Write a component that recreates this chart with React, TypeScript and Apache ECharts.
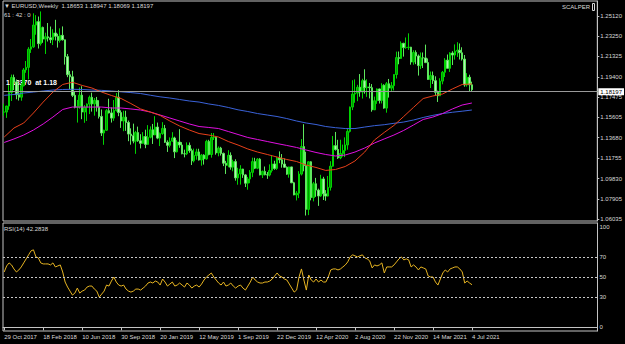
import React, { useEffect, useRef } from 'react';
import * as echarts from 'echarts';

// ---------- data ----------
const firstWeekUTC = Date.UTC(2017, 9, 29);
const axisSlots = 244; // weekly slots on the time axis (incl. empty right shift)
const xTickLabels = ['29 Oct 2017', '18 Feb 2018', '10 Jun 2018', '30 Sep 2018', '20 Jan 2019', '12 May 2019', '1 Sep 2019', '22 Dec 2019', '12 Apr 2020', '2 Aug 2020', '22 Nov 2020', '14 Mar 2021', '4 Jul 2021'];
const priceTicks = [1.06035, 1.07905, 1.0983, 1.11755, 1.1368, 1.15605, 1.17475, 1.194, 1.21325, 1.2325, 1.2512];
const rsiTicks = [0, 30, 50, 70, 100];
const rsiLevels = [70, 50, 30];
const bidPrice = 1.18197;
const levelPrice = 1.1846;

const candleOpen = [
  1.1608, 1.1609, 1.1665, 1.1793, 1.1934, 1.1892, 1.1772, 1.1749, 1.1857, 1.2005,
  1.2029, 1.2200, 1.2222, 1.2427, 1.2459, 1.2252, 1.2405, 1.2295, 1.2317, 1.2307,
  1.2289, 1.2352, 1.2321, 1.2282, 1.2330, 1.2288, 1.2130, 1.1960, 1.1940, 1.1766,
  1.1654, 1.1658, 1.1768, 1.1609, 1.1655, 1.1684, 1.1747, 1.1686, 1.1719, 1.1656,
  1.1568, 1.1412, 1.1438, 1.1622, 1.1601, 1.1552, 1.1624, 1.1748, 1.1604, 1.1525,
  1.1561, 1.1511, 1.1402, 1.1387, 1.1336, 1.1416, 1.1339, 1.1315, 1.1379, 1.1305,
  1.1372, 1.1442, 1.1394, 1.1468, 1.1364, 1.1407, 1.1455, 1.1325, 1.1296, 1.1336,
  1.1365, 1.1235, 1.1327, 1.1299, 1.1217, 1.1216, 1.1296, 1.1246, 1.1150, 1.1200,
  1.1234, 1.1158, 1.1204, 1.1169, 1.1333, 1.1210, 1.1370, 1.1371, 1.1225, 1.1270,
  1.1220, 1.1128, 1.1108, 1.1202, 1.1091, 1.1143, 1.0990, 1.1027, 1.1073, 1.1018,
  1.0940, 1.0980, 1.1042, 1.1143, 1.1081, 1.1166, 1.1018, 1.1051, 1.1020, 1.1017,
  1.1059, 1.1121, 1.1079, 1.1176, 1.1160, 1.1120, 1.1090, 1.1025, 1.1093, 1.0944,
  1.0830, 1.0846, 1.1026, 1.1284, 1.1105, 1.0694, 1.1141, 1.0805, 1.0935, 1.0875,
  1.0820, 1.0980, 1.0840, 1.0819, 1.0901, 1.1100, 1.1293, 1.1257, 1.1178, 1.1219,
  1.1248, 1.1300, 1.1427, 1.1656, 1.1778, 1.1787, 1.1842, 1.1798, 1.1903, 1.1838,
  1.1845, 1.1838, 1.1630, 1.1715, 1.1826, 1.1717, 1.1860, 1.1646, 1.1875, 1.1834,
  1.1857, 1.1962, 1.2121, 1.2113, 1.2255, 1.2215, 1.2216, 1.2219, 1.2079, 1.2169,
  1.2136, 1.2046, 1.2119, 1.2118, 1.2074, 1.1915, 1.1952, 1.1904, 1.1794, 1.1762,
  1.1900, 1.1983, 1.2097, 1.2020, 1.2164, 1.2145, 1.2181, 1.2190, 1.2166, 1.2107,
  1.1864, 1.1936, 1.18653,
];
const candleClose = [
  1.1609, 1.1665, 1.1793, 1.1934, 1.1892, 1.1772, 1.1749, 1.1857, 1.2005, 1.2029,
  1.2200, 1.2222, 1.2427, 1.2459, 1.2252, 1.2405, 1.2295, 1.2317, 1.2307, 1.2289,
  1.2352, 1.2321, 1.2282, 1.2330, 1.2288, 1.2130, 1.1960, 1.1940, 1.1766, 1.1654,
  1.1658, 1.1768, 1.1609, 1.1655, 1.1684, 1.1747, 1.1686, 1.1719, 1.1656, 1.1568,
  1.1412, 1.1438, 1.1622, 1.1601, 1.1552, 1.1624, 1.1748, 1.1604, 1.1525, 1.1561,
  1.1511, 1.1402, 1.1387, 1.1336, 1.1416, 1.1339, 1.1315, 1.1379, 1.1305, 1.1372,
  1.1442, 1.1394, 1.1468, 1.1364, 1.1407, 1.1455, 1.1325, 1.1296, 1.1336, 1.1365,
  1.1235, 1.1327, 1.1299, 1.1217, 1.1216, 1.1296, 1.1246, 1.1150, 1.1200, 1.1234,
  1.1158, 1.1204, 1.1169, 1.1333, 1.1210, 1.1370, 1.1371, 1.1225, 1.1270, 1.1220,
  1.1128, 1.1108, 1.1202, 1.1091, 1.1143, 1.0990, 1.1027, 1.1073, 1.1018, 1.0940,
  1.0980, 1.1042, 1.1143, 1.1081, 1.1166, 1.1018, 1.1051, 1.1020, 1.1017, 1.1059,
  1.1121, 1.1079, 1.1176, 1.1160, 1.1120, 1.1090, 1.1025, 1.1093, 1.0944, 1.0830,
  1.0846, 1.1026, 1.1284, 1.1105, 1.0694, 1.1141, 1.0805, 1.0935, 1.0875, 1.0820,
  1.0980, 1.0840, 1.0819, 1.0901, 1.1100, 1.1293, 1.1257, 1.1178, 1.1219, 1.1248,
  1.1300, 1.1427, 1.1656, 1.1778, 1.1787, 1.1842, 1.1798, 1.1903, 1.1838, 1.1845,
  1.1838, 1.1630, 1.1715, 1.1826, 1.1717, 1.1860, 1.1646, 1.1875, 1.1834, 1.1857,
  1.1962, 1.2121, 1.2113, 1.2255, 1.2215, 1.2216, 1.2219, 1.2079, 1.2169, 1.2136,
  1.2046, 1.2119, 1.2118, 1.2074, 1.1915, 1.1952, 1.1904, 1.1794, 1.1762, 1.1900,
  1.1983, 1.2097, 1.2020, 1.2164, 1.2145, 1.2181, 1.2190, 1.2166, 1.2107, 1.1864,
  1.1936, 1.1865, 1.18197,
];
const candleHigh = [
  1.1688, 1.1668, 1.1862, 1.1961, 1.1961, 1.1915, 1.1863, 1.1880, 1.2023, 1.2089,
  1.2219, 1.2296, 1.2537, 1.2520, 1.2507, 1.2555, 1.2412, 1.2355, 1.2446, 1.2413,
  1.2388, 1.2476, 1.2345, 1.2396, 1.2414, 1.2290, 1.2155, 1.1996, 1.1997, 1.1799,
  1.1723, 1.1840, 1.1852, 1.1675, 1.1690, 1.1764, 1.1791, 1.1741, 1.1751, 1.1720,
  1.1633, 1.1443, 1.1637, 1.1734, 1.1653, 1.1722, 1.1788, 1.1815, 1.1625, 1.1621,
  1.1621, 1.1529, 1.1456, 1.1500, 1.1432, 1.1472, 1.1401, 1.1420, 1.1443, 1.1486,
  1.1474, 1.1497, 1.1570, 1.1510, 1.1417, 1.1514, 1.1488, 1.1343, 1.1371, 1.1420,
  1.1377, 1.1345, 1.1448, 1.1326, 1.1255, 1.1324, 1.1323, 1.1265, 1.1265, 1.1264,
  1.1264, 1.1215, 1.1212, 1.1348, 1.1348, 1.1412, 1.1412, 1.1377, 1.1286, 1.1282,
  1.1228, 1.1150, 1.1250, 1.1230, 1.1161, 1.1165, 1.1085, 1.1109, 1.1076, 1.1025,
  1.0999, 1.1063, 1.1180, 1.1179, 1.1176, 1.1175, 1.1059, 1.1097, 1.1045, 1.1117,
  1.1200, 1.1151, 1.1188, 1.1239, 1.1214, 1.1173, 1.1098, 1.1096, 1.1095, 1.0953,
  1.0866, 1.1053, 1.1355, 1.1495, 1.1236, 1.1147, 1.1147, 1.0952, 1.0990, 1.0889,
  1.1019, 1.1000, 1.0875, 1.1008, 1.1147, 1.1384, 1.1422, 1.1348, 1.1349, 1.1303,
  1.1371, 1.1452, 1.1660, 1.1908, 1.1916, 1.1865, 1.1966, 1.1922, 1.2011, 1.1917,
  1.1882, 1.1872, 1.1754, 1.1831, 1.1829, 1.1880, 1.1870, 1.1891, 1.1920, 1.1891,
  1.1964, 1.2177, 1.2178, 1.2273, 1.2260, 1.2310, 1.2349, 1.2222, 1.2190, 1.2189,
  1.2150, 1.2169, 1.2169, 1.2243, 1.2113, 1.1990, 1.1990, 1.1945, 1.1810, 1.1927,
  1.1995, 1.2116, 1.2150, 1.2171, 1.2181, 1.2245, 1.2266, 1.2254, 1.2218, 1.2145,
  1.1975, 1.1960, 1.18947,
];
const candleLow = [
  1.1574, 1.1554, 1.1630, 1.1713, 1.1816, 1.1729, 1.1717, 1.1715, 1.1850, 1.1978,
  1.1916, 1.2165, 1.2213, 1.2336, 1.2206, 1.2234, 1.2260, 1.2155, 1.2272, 1.2257,
  1.2239, 1.2282, 1.2215, 1.2262, 1.2282, 1.2055, 1.1937, 1.1823, 1.1750, 1.1644,
  1.1510, 1.1640, 1.1542, 1.1508, 1.1525, 1.1590, 1.1613, 1.1575, 1.1613, 1.1548,
  1.1384, 1.1301, 1.1432, 1.1596, 1.1510, 1.1526, 1.1613, 1.1570, 1.1460, 1.1429,
  1.1432, 1.1335, 1.1302, 1.1315, 1.1216, 1.1329, 1.1267, 1.1310, 1.1269, 1.1302,
  1.1362, 1.1309, 1.1391, 1.1354, 1.1289, 1.1395, 1.1318, 1.1234, 1.1277, 1.1330,
  1.1176, 1.1229, 1.1273, 1.1212, 1.1183, 1.1204, 1.1226, 1.1111, 1.1135, 1.1161,
  1.1153, 1.1105, 1.1115, 1.1161, 1.1202, 1.1180, 1.1346, 1.1208, 1.1193, 1.1200,
  1.1101, 1.1027, 1.1090, 1.1067, 1.1052, 1.0964, 1.0926, 1.0927, 1.0990, 1.0904,
  1.0879, 1.0940, 1.0997, 1.1073, 1.1072, 1.1014, 1.0989, 1.1014, 1.0981, 1.1004,
  1.1040, 1.1066, 1.1065, 1.1128, 1.1086, 1.1085, 1.1019, 1.0992, 1.0941, 1.0827,
  1.0778, 1.0800, 1.1013, 1.1052, 1.0636, 1.0640, 1.0779, 1.0769, 1.0812, 1.0727,
  1.0812, 1.0782, 1.0775, 1.0815, 1.0871, 1.1095, 1.1246, 1.1168, 1.1166, 1.1190,
  1.1186, 1.1255, 1.1417, 1.1627, 1.1696, 1.1711, 1.1753, 1.1736, 1.1782, 1.1752,
  1.1737, 1.1612, 1.1628, 1.1686, 1.1689, 1.1690, 1.1640, 1.1603, 1.1745, 1.1800,
  1.1812, 1.1924, 1.2058, 1.2108, 1.2130, 1.2203, 1.2193, 1.2054, 1.2054, 1.2059,
  1.1952, 1.2013, 1.2023, 1.2069, 1.1913, 1.1835, 1.1873, 1.1762, 1.1704, 1.1760,
  1.1870, 1.1938, 1.2019, 1.1986, 1.2051, 1.2102, 1.2127, 1.2103, 1.2093, 1.1847,
  1.1848, 1.1807, 1.18069,
];

// moving averages every 4 weeks
const maRed4w = [1.1374, 1.1459, 1.1506, 1.1600, 1.1703, 1.1797, 1.1868, 1.1889, 1.1859, 1.1835, 1.1797, 1.1765, 1.1736, 1.1689, 1.1638, 1.1609, 1.1577, 1.1525, 1.1478, 1.1440, 1.1407, 1.1393, 1.1374, 1.1332, 1.1299, 1.1262, 1.1233, 1.1210, 1.1186, 1.1163, 1.1144, 1.1111, 1.1088, 1.1060, 1.1069, 1.1097, 1.1149, 1.1233, 1.1346, 1.1417, 1.1483, 1.1567, 1.1652, 1.1736, 1.1760, 1.1779, 1.1826, 1.1868, 1.1873];
const maBlue4w = [1.1766, 1.1774, 1.1788, 1.1797, 1.1807, 1.1816, 1.1821, 1.1823, 1.1821, 1.1816, 1.1813, 1.1807, 1.1799, 1.1792, 1.1783, 1.1767, 1.1752, 1.1741, 1.1727, 1.1713, 1.1703, 1.1685, 1.1671, 1.1652, 1.1630, 1.1614, 1.1595, 1.1581, 1.1567, 1.1548, 1.1525, 1.1506, 1.1492, 1.1473, 1.1462, 1.1454, 1.1454, 1.1468, 1.1481, 1.1490, 1.1503, 1.1515, 1.1534, 1.1558, 1.1578, 1.1595, 1.1607, 1.1617, 1.1628];
const maMagenta4w = [1.1323, 1.1356, 1.1393, 1.1440, 1.1497, 1.1562, 1.1633, 1.1656, 1.1656, 1.1656, 1.1656, 1.1647, 1.1647, 1.1638, 1.1628, 1.1609, 1.1581, 1.1553, 1.1525, 1.1497, 1.1473, 1.1464, 1.1454, 1.1426, 1.1398, 1.1370, 1.1351, 1.1332, 1.1313, 1.1295, 1.1276, 1.1252, 1.1229, 1.1210, 1.1196, 1.1205, 1.1233, 1.1271, 1.1318, 1.1356, 1.1393, 1.1436, 1.1487, 1.1539, 1.1562, 1.1595, 1.1638, 1.1675, 1.1694];

const rsi14 = [
  55, 61, 64, 62, 58, 55, 57, 60, 64, 68,
  72, 76, 77, 70, 69, 64, 63, 63, 63, 62,
  64, 60, 61, 62, 55, 45, 40, 36, 32, 34,
  39, 34, 36, 37, 40, 41, 41, 38, 36, 30,
  33, 36, 42, 41, 46, 50, 45, 42, 41, 42,
  38, 36, 35, 36, 38, 38, 37, 39, 41, 44,
  45, 44, 46, 45, 42, 48, 45, 41, 43, 45,
  41, 42, 44, 42, 40, 44, 42, 39, 41, 42,
  40, 43, 47, 50, 52, 54, 50, 47, 44, 42,
  45, 41, 42, 44, 41, 39, 41, 42, 39, 37,
  41, 45, 50, 47, 45, 44, 44, 45, 45, 46,
  48, 51, 54, 51, 50, 48, 47, 43, 39, 35,
  37, 50, 58, 47, 37, 52, 47, 45, 48, 45,
  47, 45, 45, 50, 57, 58, 58, 57, 58, 60,
  62, 65, 70, 72, 71, 70, 71, 72, 69, 68,
  66, 59, 62, 61, 62, 64, 54, 60, 60, 60,
  62, 65, 68, 70, 67, 68, 67, 60, 62, 60,
  57, 60, 59, 58, 51, 50, 50, 45, 42, 48,
  54, 57, 55, 58, 59, 60, 60, 58, 55, 44,
  46, 44, 42.2838,
];

// ---------- helpers ----------
const MONTHS = ['Jan', 'Feb', 'Mar', 'Apr', 'May', 'Jun', 'Jul', 'Aug', 'Sep', 'Oct', 'Nov', 'Dec'];
const weekName = (i: number) => {
  const d = new Date(firstWeekUTC + i * 7 * 86400000);
  return `${d.getUTCDate()} ${MONTHS[d.getUTCMonth()]} ${d.getUTCFullYear()}`;
};
const categories = Array.from({ length: axisSlots }, (_, i) => weekName(i));
const candleData = candleOpen.map((o, i) => [o, candleClose[i], candleLow[i], candleHigh[i]]);
const spread4w = (arr: number[]) =>
  candleOpen.map((_, i) => (i % 4 === 0 && i / 4 < arr.length ? arr[i / 4] : null));

const FONT = 'Liberation Sans, Arial, sans-serif';
const TXT = '#d8d8d8';
const FRAME = '#c4c4c4';
const showTick = (idx: number, val: string) => xTickLabels.indexOf(val) >= 0 && idx <= candleOpen.length - 1;

export default function App() {
  const ref = useRef<HTMLDivElement>(null);
  useEffect(() => {
    document.body.style.margin = '0';
    document.body.style.background = '#000';
    const chart = echarts.init(ref.current!, null, { renderer: 'svg' });
    chart.setOption({
      animation: false,
      backgroundColor: '#000',
      textStyle: { fontFamily: FONT },
      grid: [
        { left: 3, top: 1, width: 594.5, height: 220, show: true, borderColor: FRAME, borderWidth: 1, containLabel: false },
        { left: 3, top: 223, width: 594.5, height: 108, show: true, borderColor: FRAME, borderWidth: 1, containLabel: false },
      ],
      xAxis: [
        {
          gridIndex: 0, type: 'category', data: categories, boundaryGap: true,
          axisLine: { show: false }, axisTick: { show: false }, axisLabel: { show: false }, splitLine: { show: false },
        },
        {
          gridIndex: 1, type: 'category', data: categories, boundaryGap: true,
          axisLine: { show: true, lineStyle: { color: FRAME } },
          axisTick: { show: true, interval: showTick, alignWithLabel: true, length: 3, lineStyle: { color: FRAME } },
          axisLabel: { show: true, interval: showTick, align: 'left', color: TXT, fontSize: 6, fontFamily: FONT, margin: 3 },
          splitLine: { show: false },
        },
      ],
      yAxis: [
        {
          gridIndex: 0, type: 'value', position: 'right', min: 1.05847, max: 1.2653,
          splitLine: { show: false },
          axisLine: { show: true, lineStyle: { color: FRAME } },
          axisTick: { show: true, customValues: priceTicks, length: 2, lineStyle: { color: FRAME } },
          axisLabel: { show: true, customValues: priceTicks, formatter: (v: number) => v.toFixed(5), color: TXT, fontSize: 6, fontFamily: FONT, margin: 3 },
        },
        {
          gridIndex: 1, type: 'value', position: 'right', min: -3.68, max: 103.68,
          splitLine: { show: false },
          axisLine: { show: true, lineStyle: { color: FRAME } },
          axisTick: { show: false, customValues: rsiTicks },
          axisLabel: { show: true, customValues: rsiTicks, formatter: (v: number) => String(v), color: TXT, fontSize: 6, fontFamily: FONT, margin: 2 },
        },
      ],
      series: [
        {
          type: 'candlestick', xAxisIndex: 0, yAxisIndex: 0, data: candleData, barWidth: 2,
          itemStyle: { color: '#009a00', color0: '#b4f0b4', borderColor: '#00d400', borderColor0: '#5ee85e', borderWidth: 1 },
          markLine: {
            symbol: ['none', 'none'], silent: true, animation: false,
            label: { show: false },
            data: [
              {
                name: 'level', yAxis: levelPrice,
                lineStyle: { color: '#3fb03f', width: 1, type: 'dashed' },
              },
              {
                name: 'bid', yAxis: bidPrice,
                lineStyle: { color: '#9a9a9a', width: 1, type: 'solid' },
                label: { show: true, position: 'end', formatter: () => bidPrice.toFixed(5), color: '#000', backgroundColor: '#fff', fontSize: 6, fontFamily: FONT, padding: [1, 2, 0, 2], distance: 1 },
              },
            ],
          },
        },
        { type: 'line', xAxisIndex: 0, yAxisIndex: 0, data: spread4w(maBlue4w), connectNulls: true, symbol: 'none', lineStyle: { color: '#3a62d8', width: 1 }, z: 3 },
        { type: 'line', xAxisIndex: 0, yAxisIndex: 0, data: spread4w(maMagenta4w), connectNulls: true, symbol: 'none', lineStyle: { color: '#e010e0', width: 1 }, z: 3 },
        { type: 'line', xAxisIndex: 0, yAxisIndex: 0, data: spread4w(maRed4w), connectNulls: true, symbol: 'none', lineStyle: { color: '#e8401a', width: 1 }, z: 3 },
        {
          type: 'line', xAxisIndex: 1, yAxisIndex: 1, data: rsi14, symbol: 'none', lineStyle: { color: '#e6b422', width: 1 },
          markLine: {
            symbol: ['none', 'none'], silent: true, animation: false, label: { show: false },
            lineStyle: { color: '#c8c8c8', width: 1, type: [2, 2] },
            data: rsiLevels.map((v) => ({ yAxis: v })),
          },
        },
      ],
      graphic: [
        { type: 'text', x: 4, y: 6, style: { text: '▼ EURUSD,Weekly  1.18653 1.18947 1.18069 1.18197', fill: TXT, font: `6px ${FONT}`, textVerticalAlign: 'middle' } },
        { type: 'text', x: 4, y: 14.5, style: { text: '61 : 42 : 0', fill: TXT, font: `6px ${FONT}`, textVerticalAlign: 'middle' } },
        { type: 'text', x: 562, y: 7, style: { text: 'SCALPER', fill: TXT, font: `6px ${FONT}`, textVerticalAlign: 'middle' } },
        { type: 'rect', shape: { x: 592.5, y: 3.5, width: 2, height: 7 }, style: { fill: 'none', stroke: TXT, lineWidth: 1 } },
        { type: 'text', x: 6, y: 82.5, style: { text: '1.18370  at 1.18', fill: '#ffffff', font: `bold 7px ${FONT}`, textVerticalAlign: 'middle' } },
        { type: 'text', x: 4, y: 228.5, style: { text: 'RSI(14) 42.2838', fill: TXT, font: `6px ${FONT}`, textVerticalAlign: 'middle' } },
      ],
    });
    return () => chart.dispose();
  }, []);
  return <div ref={ref} style={{ position: 'absolute', left: 0, top: 0, width: 625, height: 344, background: '#000' }} />;
}
